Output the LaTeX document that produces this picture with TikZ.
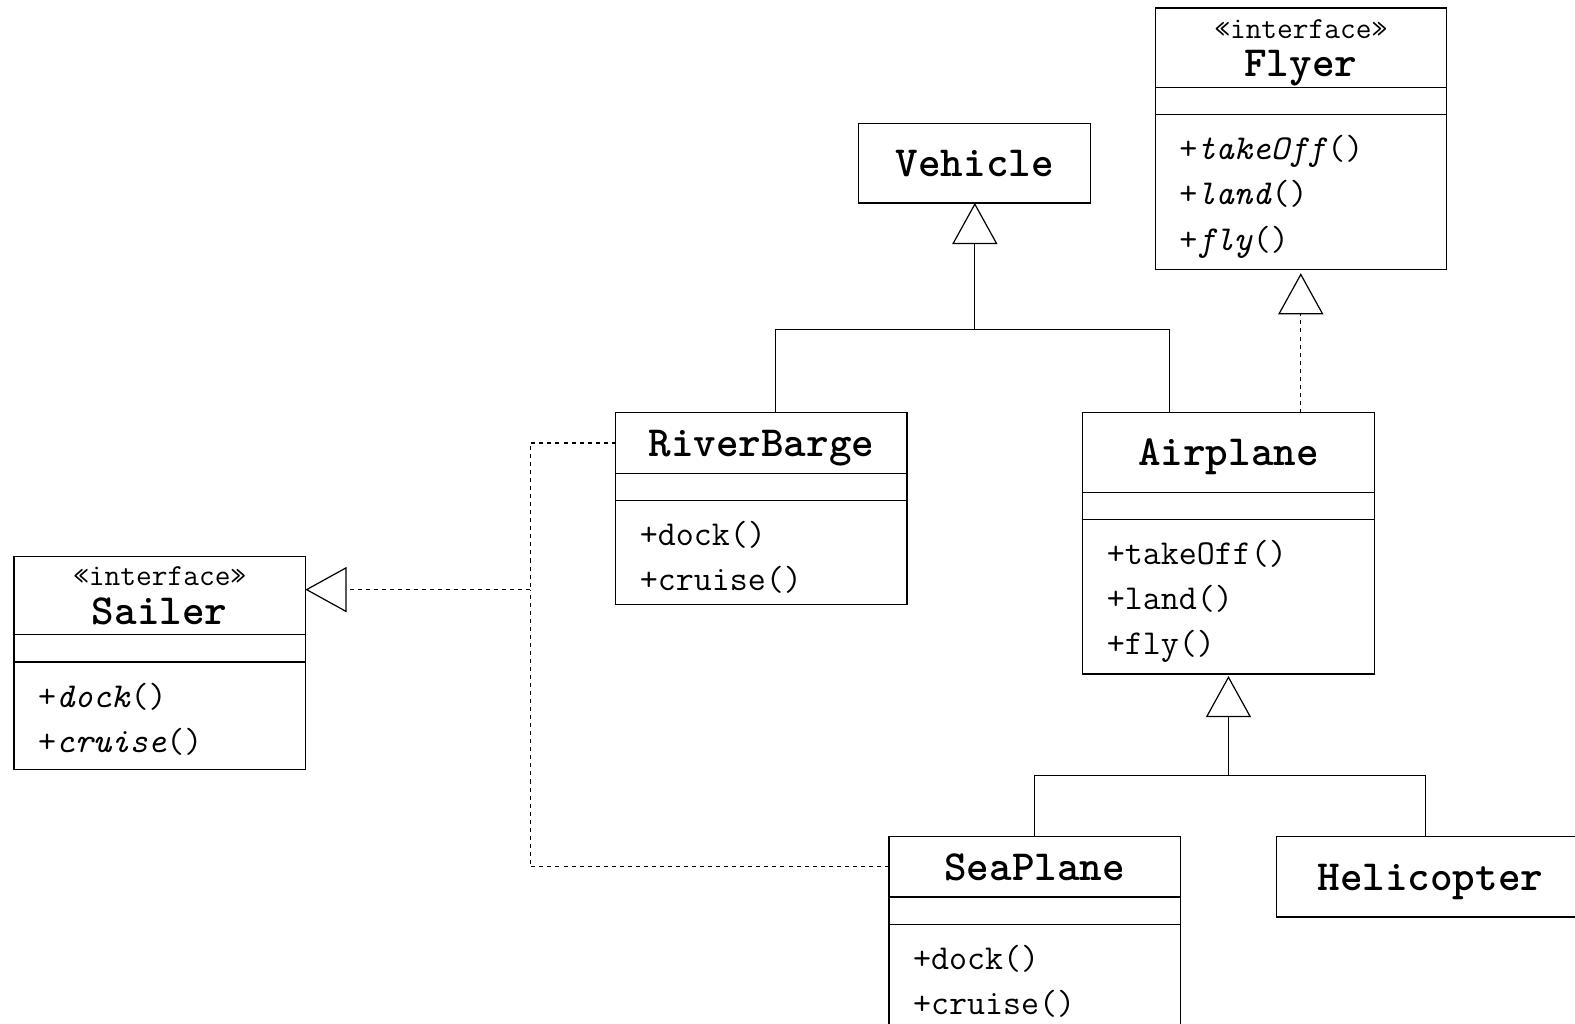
\documentclass[tikz,border=0pt]{standalone}
\usepackage{fontspec}
\usepackage{tikz}
\usetikzlibrary{arrows.meta,positioning}

\newcommand{\stereo}[1]{{\mdseries\fontsize{15.2}{19}\selectfont «#1»}\\}
\newcommand{\optop}{\rule{0pt}{22.5pt}}
\newcommand{\opbot}[1]{\rule[-#1]{0pt}{#1}}

\begin{document}
\begin{tikzpicture}[
    x=0.5pt, y=-0.5pt,
    every node/.style={font=\ttfamily},
    classhead/.style={
      rectangle, draw, line width=0.6pt, inner sep=0pt, outer sep=0pt,
      minimum width=145pt, align=center, text depth=0pt,
      font=\ttfamily\bfseries\fontsize{21.4}{19}\selectfont
    },
    classattr/.style={rectangle, draw, line width=0.6pt, inner sep=0pt, outer sep=0pt,
      minimum width=145pt, minimum height=13.5pt},
    classops/.style={rectangle, draw, line width=0.6pt, inner ysep=0pt, outer sep=0pt,
      inner xsep=12pt, text width=121pt, align=left,
      font=\ttfamily\fontsize{17.4}{22.5}\selectfont},
    link/.style={line width=0.6pt},
    gen/.style={link, -{Triangle[open, length=20.5pt, width=22.5pt]}},
    real/.style={gen, dash pattern=on 2pt off 2pt},
    dashline/.style={link, dash pattern=on 2pt off 2pt}
  ]
    \useasboundingbox (0,0) rectangle (1568,1019);
    \clip (0,0) rectangle (1568,1019);

    % ── Interfaces ──
    \node[classhead, minimum height=39.5pt, anchor=north west] (flyer) at (1150,8) {\stereo{interface}Flyer};
    \node[classattr, below=0pt of flyer] (flyer-a) {};
    \node[classops, below=0pt of flyer-a] (flyer-m) {\optop+\textit{takeOff}()\\+\textit{land}()\\+\textit{fly}()\opbot{9.5pt}};

    \node[classhead, minimum height=39pt, anchor=north west] (sailer) at (14,554) {\stereo{interface}Sailer};
    \node[classattr, below=0pt of sailer] (sailer-a) {};
    \node[classops, below=0pt of sailer-a] (sailer-m) {\optop+\textit{dock}()\\+\textit{cruise}()\opbot{8.5pt}};

    % ── Classes ──
    \node[classhead, minimum width=115.5pt, minimum height=39.5pt, anchor=north west] (vehicle) at (855,123) {Vehicle};

    \node[classhead, minimum height=30pt, anchor=north west] (barge) at (613,411) {RiverBarge};
    \node[classattr, below=0pt of barge] (barge-a) {};
    \node[classops, below=0pt of barge-a] (barge-m) {\optop+dock()\\+cruise()\opbot{7pt}};

    \node[classhead, minimum height=39.5pt, anchor=north west] (plane) at (1078,411) {Airplane};
    \node[classattr, below=0pt of plane] (plane-a) {};
    \node[classops, below=0pt of plane-a] (plane-m) {\optop+takeOff()\\+land()\\+fly()\opbot{9.5pt}};

    \node[classhead, minimum height=30pt, anchor=north west] (sea) at (885,833) {SeaPlane};
    \node[classattr, below=0pt of sea] (sea-a) {};
    \node[classops, below=0pt of sea-a] (sea-m) {\optop+dock()\\+cruise()\opbot{7pt}};

    \node[classhead, minimum width=153pt, minimum height=40pt, anchor=north west] (heli) at (1271,833) {Helicopter};

    % ── Generalisation ──
    \coordinate (vjoin) at ([yshift=-63pt]vehicle.south);
    \draw[gen] (vjoin) -- (vehicle.south);
    \draw[link] ([xshift=7pt]barge.north) |- (vjoin) -| ([xshift=-29.5pt]plane.north);

    \coordinate (pjoin) at ([yshift=-50.5pt]plane-m.south);
    \draw[gen] (pjoin) -- ([yshift=-1pt]plane-m.south);
    \draw[link] (sea.north) |- (pjoin) -| ([xshift=-2.5pt]heli.north);

    % ── Realisation ──
    \draw[real] (plane.north -| flyer-m.south) -- ([yshift=-2pt]flyer-m.south);

    \coordinate (sjoin) at (528,587);
    \draw[real] (sjoin) -- (sailer.east |- sjoin);
    \draw[dashline] (barge.west) -| (sjoin);
    \draw[dashline] (sea.west) -| (sjoin);

  \end{tikzpicture}
\end{document}
